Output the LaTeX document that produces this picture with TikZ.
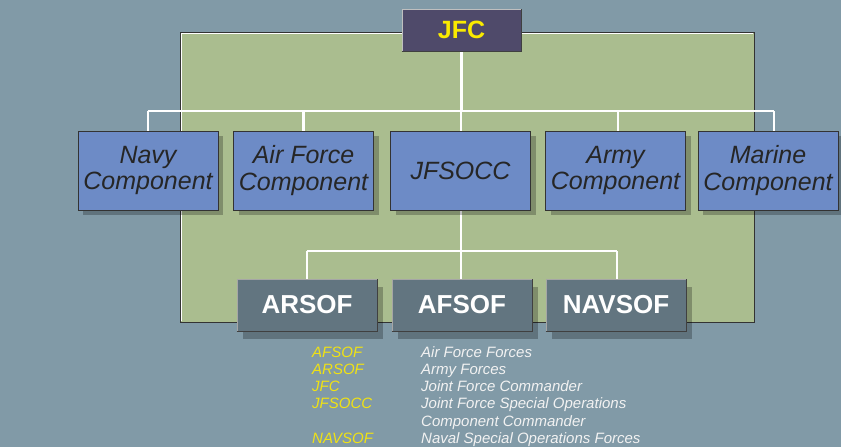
\documentclass[tikz,border=0pt]{standalone}
\usepackage{fontspec}
\setmainfont{Liberation Sans}
\usetikzlibrary{shadows}
\definecolor{bg}{RGB}{129,154,167}
\definecolor{greenbox}{RGB}{170,189,143}
\definecolor{compblue}{RGB}{109,139,198}
\definecolor{jfcpurple}{RGB}{79,74,106}
\definecolor{sofgrey}{RGB}{98,117,128}
\definecolor{legyellow}{RGB}{240,226,20}
\definecolor{jfcyellow}{RGB}{250,235,0}
\definecolor{legwhite}{RGB}{242,242,242}
\pgfdeclarelayer{greenlayer}
\pgfdeclarelayer{lines}
\pgfsetlayers{greenlayer,lines,main}
\tikzset{
  wline/.style={draw=white, line width=2.6pt},
  comp/.style={draw=black!80, line width=0.8pt, fill=compblue,
    minimum width=140pt, minimum height=79pt, inner sep=0pt, align=center,
    font=\fontsize{25}{26.5}\selectfont\itshape, text=black!85,
    general shadow={fill=black, draw=none, opacity=0.25, shadow xshift=5pt, shadow yshift=-5pt}},
  sof/.style={draw=black!35, line width=0.8pt, fill=sofgrey,
    minimum width=140pt, minimum height=52pt, inner sep=0pt,
    font=\fontsize{26}{30}\selectfont\bfseries, text=white,
    general shadow={fill=black, draw=none, opacity=0.25, shadow xshift=6pt, shadow yshift=-8pt}},
  top/.style={draw=black!25, line width=0.8pt, fill=jfcpurple,
    minimum width=119pt, minimum height=42pt, inner sep=0pt,
    font=\fontsize{25}{28}\selectfont\bfseries, text=jfcyellow},
  abbr/.style={anchor=base west, inner sep=0pt, font=\fontsize{15}{16}\selectfont\itshape, text=legyellow},
  desc/.style={anchor=base west, inner sep=0pt, font=\fontsize{15}{16}\selectfont\itshape, text=legwhite},
}
\begin{document}
\begin{tikzpicture}[x=1pt,y=-1pt]
\useasboundingbox (0,0) rectangle (841,447);

\begin{pgfonlayer}{greenlayer}
\fill[bg] (0,0) rectangle (841,447);
\fill[greenbox] (180,32) rectangle (754,322);
\draw[black!80, line width=1pt] (180,32) rectangle (754,322);
\draw[white, line width=0.8pt] (181.6,320.5) -- (181.6,33.6) -- (752.5,33.6);
\end{pgfonlayer}

% nodes
\node[top] (jfc) at (461.5,30) {JFC};

\node[comp] (navy)   at (148,170.5)   {Navy\\Component};
\node[comp] (air)    at (303.5,170.5) {Air Force\\Component};
\node[comp] (jfsocc) at (460.5,170.5) {JFSOCC};
\node[comp] (army)   at (615.5,170.5) {Army\\Component};
\node[comp] (marine) at (768,170.5)   {Marine\\Component};

\node[sof] (arsof)  at (307,305) {ARSOF};
\node[sof] (afsof)  at (462,305) {AFSOF};
\node[sof] (navsof) at (616,305) {NAVSOF};

% dark bottom/right edges on raised boxes
\foreach \n in {jfc,arsof,afsof,navsof}{
  \draw[black!75, line width=0.9pt] (\n.south west) -- (\n.south east) -- (\n.north east);
}

% connectors
\coordinate (tl) at (148,111);
\coordinate (tr) at (774,111);
\coordinate (bl) at (307,251);
\coordinate (br) at (617,251);
\begin{pgfonlayer}{lines}
\draw[wline] (tl) -- (tr);
\draw[wline] (jfc.south) -- (jfc.south |- tl);
\draw[wline] (navy.north) -- (navy.north |- tl);
\draw[wline] (air.north) -- (air.north |- tl);
\draw[wline] ([xshift=0.5pt]jfsocc.north) -- ([xshift=0.5pt]jfsocc.north |- tl);
\draw[wline] ([xshift=2.5pt]army.north) -- ([xshift=2.5pt]army.north |- tl);
\draw[wline] ([xshift=6pt]marine.north) -- ([xshift=6pt]marine.north |- tl);
\draw[wline] (bl) -- (br);
\draw[wline] ([xshift=0.5pt]jfsocc.south) -- ([xshift=0.5pt]jfsocc.south |- bl);
\draw[wline] (arsof.north) -- (arsof.north |- bl);
\draw[wline] ([xshift=-1pt]afsof.north) -- ([xshift=-1pt]afsof.north |- bl);
\draw[wline] ([xshift=1pt]navsof.north) -- ([xshift=1pt]navsof.north |- bl);
\end{pgfonlayer}

% legend
\node[abbr] (l1) at (312,357) {AFSOF};
\node[abbr] (l2) at (312,374.5) {ARSOF};
\node[abbr] (l3) at (312,391.5) {JFC};
\node[abbr] (l4) at (312,408.5) {JFSOCC};
\node[abbr] (l6) at (312,443) {NAVSOF};
\node[desc] (d1) at (421,357) {Air Force Forces};
\node[desc] (d2) at (421,374.5) {Army Forces};
\node[desc] (d3) at (421,391.5) {Joint Force Commander};
\node[desc] (d4) at (421,408.5) {Joint Force Special Operations};
\node[desc] (d5) at (421,426) {Component Commander};
\node[desc] (d6) at (421,443) {Naval Special Operations Forces};
\end{tikzpicture}
\end{document}
